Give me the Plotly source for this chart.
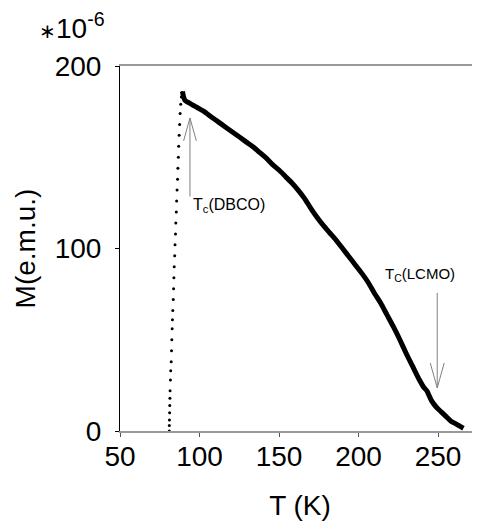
import plotly.graph_objects as go

# Rising (superconducting transition) points: T (K), M (x1e-6 emu)
T_rise = [81.0, 81.0, 81.1, 81.2, 81.3, 81.4, 81.5, 81.7, 81.9, 82.2, 82.4, 82.6, 82.8, 83.0,
          83.2, 83.5, 83.7, 83.9, 84.1, 84.4, 84.6, 84.9, 85.1, 85.4, 85.6, 85.9, 86.2, 86.4,
          86.7, 86.9, 87.2, 87.5, 87.8, 88.2, 88.6, 89.0]
M_rise = [0, 3, 6, 10, 14, 18, 22, 28, 33, 38, 44, 50, 56, 61,
          66, 72, 78, 84, 90, 96, 102, 108, 114, 120, 126, 132, 138, 144,
          150, 156, 162, 168, 174, 179, 183, 185.5]

# Main (decreasing) branch
T_main = [89.3, 90, 91, 92, 93, 95, 97, 100, 103, 106, 110, 114, 118, 122, 126, 130, 134, 138,
          142, 146, 150, 154, 158, 162, 166, 170, 174, 178, 182, 186, 190, 194, 198, 202, 206,
          210, 214, 218, 222, 226, 230, 234, 238, 241, 243, 246, 249, 252, 255, 258, 261, 263,
          265, 266]
M_main = [186, 183, 181, 180.5, 180, 179, 178, 176.5, 175, 173, 170.5, 168, 165.5, 163, 160.5,
          158, 155.5, 152.5, 149.5, 146, 143, 139.5, 136, 132, 127.5, 122, 117, 112.5, 108.5,
          104.5, 100, 95.5, 91, 86.5, 81.5, 75.5, 70, 63.5, 57, 50, 42.5, 35.5, 28.5, 24, 22,
          16.5, 13, 10.5, 8, 5.5, 4, 3, 2, 1.5]

x_ticks = [50, 100, 150, 200, 250]
y_ticks = [0, 100, 200]

FONT = "Liberation Sans, Arial, Helvetica, sans-serif"

fig = go.Figure()
fig.add_trace(go.Scatter(x=T_rise, y=M_rise, mode="markers",
                         marker=dict(color="black", size=3), showlegend=False))
fig.add_trace(go.Scatter(x=T_main, y=M_main, mode="lines",
                         line=dict(color="black", width=5, shape="spline", smoothing=0.6),
                         showlegend=False))

# Arrows (open V heads) for transition temperatures
arrow_color = "#808080"
def add_arrow(x, y0, y1, dx, dy):
    fig.add_shape(type="line", x0=x, x1=x, y0=y0, y1=y1, line=dict(color=arrow_color, width=1))
    sgn = 1 if y1 < y0 else -1
    fig.add_shape(type="line", x0=x, y0=y1, x1=x - dx, y1=y1 + sgn * dy,
                  line=dict(color=arrow_color, width=1))
    fig.add_shape(type="line", x0=x, y0=y1, x1=x + dx, y1=y1 + sgn * dy,
                  line=dict(color=arrow_color, width=1))

add_arrow(94.0, 128.5, 171.5, 4.0, 12.5)
add_arrow(249.5, 75.7, 23.6, 4.4, 13.7)

fig.add_annotation(x=94.4, y=123.8, text="T<sub>c</sub>(DBCO)", showarrow=False,
                   xanchor="left", yanchor="middle", font=dict(family=FONT, size=16, color="black"))
fig.add_annotation(x=215.3, y=86, text="T<sub>C</sub>(LCMO)", showarrow=False,
                   xanchor="left", yanchor="middle", font=dict(family=FONT, size=15, color="black"))

fig.add_annotation(xref="paper", yref="paper", x=-0.23, y=1.11,
                   text='<span style="font-size:20px">∗</span>10<sup>-6</sup>',
                   showarrow=False, xanchor="left", yanchor="middle",
                   font=dict(family=FONT, size=28, color="black"))

# page body adds an 8px offset; compensate in size/margins
fig.update_layout(
    width=472, height=513,
    margin=dict(l=112, r=0, t=58, b=90),
    paper_bgcolor="white", plot_bgcolor="white",
    font=dict(family=FONT, size=28, color="black"),
    xaxis=dict(range=[50, 276.4], tickvals=x_ticks, ticks="outside", ticklen=4,
               tickcolor="#555555", showline=True, linecolor="#999999", linewidth=1.5,
               mirror=True, showgrid=False, zeroline=False, automargin=False,
               ticklabelstandoff=-4,
               title=dict(text="T (K)", font=dict(size=28), standoff=27)),
    yaxis=dict(range=[0, 200], tickvals=y_ticks, ticks="outside", ticklen=4,
               tickcolor="black", showline=True, linecolor="black", linewidth=1,
               showgrid=False, zeroline=False, automargin=False,
               ticklabelstandoff=8,
               title=dict(text="M(e.m.u.)", font=dict(size=28), standoff=10)),
)

fig.write_html("out.html")
